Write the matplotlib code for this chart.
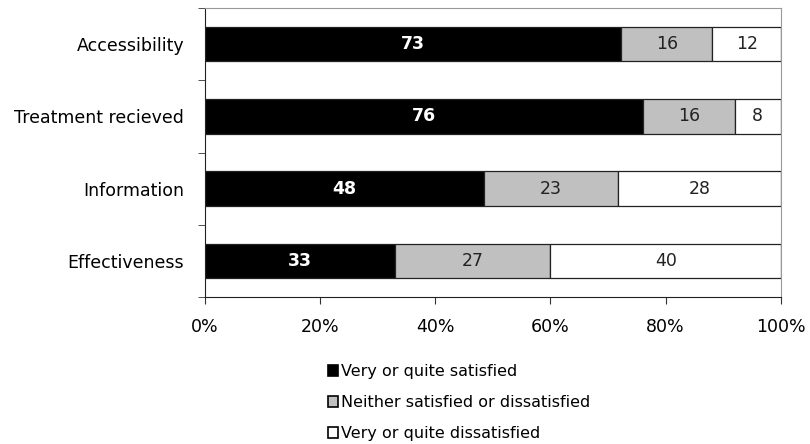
import numpy as np
import matplotlib
matplotlib.use("Agg")
import matplotlib.pyplot as plt
from matplotlib.patches import Patch

categories = ["Accessibility", "Treatment recieved", "Information", "Effectiveness"]
satisfied = [73, 76, 48, 33]
neither = [16, 16, 23, 27]
dissatisfied = [12, 8, 28, 40]
series_names = ["Very or quite satisfied", "Neither satisfied or dissatisfied",
                "Very or quite dissatisfied"]
x_ticks = [0, 20, 40, 60, 80, 100]

plt.rcParams["font.family"] = ["DejaVu Sans"]

raw = np.array([satisfied, neither, dissatisfied], dtype=float)
pct = raw / raw.sum(axis=0) * 100

fig = plt.figure(figsize=(8.1, 4.44), dpi=100)
ax = fig.add_axes([0.253, 0.331, 0.711, 0.651])

fills = ["black", "#c0c0c0", "white"]
text_cols = ["white", "#222222", "#222222"]
weights = ["bold", "normal", "normal"]
y = np.arange(len(categories))
left = np.zeros(len(categories))
for i in range(3):
    ax.barh(y, pct[i], left=left, height=0.48, color=fills[i],
            edgecolor="#222222", linewidth=0.9)
    for j in range(len(categories)):
        ax.text(left[j] + pct[i][j] / 2, y[j], f"{int(raw[i][j])}",
                ha="center", va="center", color=text_cols[i],
                fontsize=12.5, fontweight=weights[i])
    left += pct[i]

ax.set_xlim(0, 100)
ax.set_ylim(len(categories) - 0.5, -0.5)
ax.set_yticks(y)
ax.set_yticklabels(categories, fontsize=12.5)
ax.tick_params(axis="y", length=0, pad=15)
ax.set_yticks(np.arange(-0.5, len(categories), 1.0), minor=True)
ax.tick_params(axis="y", which="minor", length=5, direction="out", color="#333333")
ax.set_xticks(x_ticks)
ax.set_xticklabels([f"{v}%" for v in x_ticks], fontsize=12.5)
ax.tick_params(axis="x", length=5, direction="out", color="#333333", pad=10)

ax.spines["left"].set_color("#222222")
ax.spines["bottom"].set_color("#222222")
ax.spines["top"].set_color("#999999")
ax.spines["right"].set_color("#999999")

handles = [Patch(facecolor=fills[i], edgecolor="black", linewidth=1.2) for i in range(3)]
fig.legend(handles, series_names, loc="upper center", bbox_to_anchor=(0.567, 0.201),
           frameon=False, fontsize=11.5, handlelength=0.65, handleheight=0.65,
           handletextpad=0.2, labelspacing=1.0, borderaxespad=0.2)

fig.savefig("out.png", dpi=100)
